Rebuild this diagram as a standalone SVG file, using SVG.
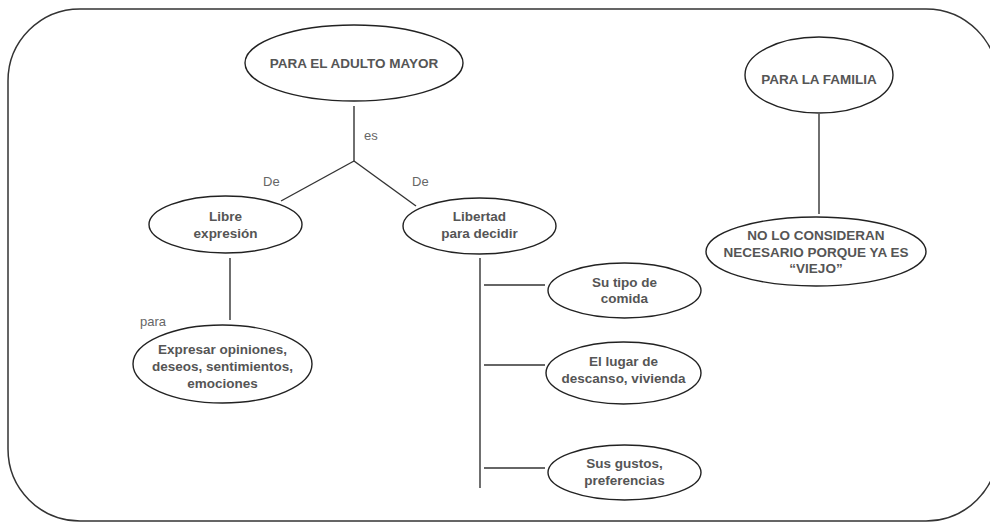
<svg xmlns="http://www.w3.org/2000/svg" width="990" height="523" viewBox="0 0 990 523">
<style>
.n{fill:#fff;stroke:#222;stroke-width:1.4}
.t{font-family:"Liberation Sans",Arial,sans-serif;font-weight:bold;font-size:13.5px;fill:#555;text-anchor:middle}
.l{font-family:"Liberation Sans",Arial,sans-serif;font-size:13px;fill:#666}
.c{stroke:#333;stroke-width:1.4;fill:none}
</style>
<rect width="990" height="523" fill="#fff"/>
<rect x="8" y="9" width="990" height="512" rx="72" ry="72" fill="none" stroke="#333" stroke-width="1.5"/>
<g id="connectors">
<line class="c" x1="354" y1="106" x2="354" y2="162"/>
<line class="c" x1="354" y1="161" x2="281" y2="201"/>
<line class="c" x1="354" y1="161" x2="416" y2="206"/>
<line class="c" x1="230" y1="258" x2="230" y2="320"/>
<line class="c" x1="480" y1="258" x2="480" y2="488"/>
<line class="c" x1="484" y1="285" x2="545" y2="285"/>
<line class="c" x1="484" y1="365" x2="545" y2="365"/>
<line class="c" x1="484" y1="468" x2="545" y2="468"/>
<line class="c" x1="819" y1="114" x2="819" y2="214"/>
<text class="l" x="364" y="140">es</text>
<text class="l" x="263" y="186">De</text>
<text class="l" x="412" y="186">De</text>
<text class="l" x="140" y="326">para</text>
</g>
<g id="adulto">
<ellipse class="n" cx="354" cy="63" rx="109" ry="38"/>
<text class="t" x="354" y="68">PARA EL ADULTO MAYOR</text>
</g>
<g id="libre">
<ellipse class="n" cx="225.5" cy="224.5" rx="76.5" ry="28.5"/>
<text class="t" x="225.5" y="221">Libre</text>
<text class="t" x="225.5" y="238">expresión</text>
</g>
<g id="libertad">
<ellipse class="n" cx="479.5" cy="226" rx="76.5" ry="28"/>
<text class="t" x="479.5" y="221">Libertad</text>
<text class="t" x="479.5" y="238">para decidir</text>
</g>
<g id="familia">
<ellipse class="n" cx="819" cy="75" rx="74" ry="38"/>
<text class="t" x="819" y="84">PARA LA FAMILIA</text>
</g>
<g id="noconsideran">
<ellipse class="n" cx="816" cy="251.5" rx="110" ry="34.5"/>
<text class="t" x="816" y="240">NO LO CONSIDERAN</text>
<text class="t" x="816" y="257">NECESARIO PORQUE YA ES</text>
<text class="t" x="816" y="273">“VIEJO”</text>
</g>
<g id="expresar">
<ellipse class="n" cx="222.5" cy="364" rx="89.5" ry="39"/>
<text class="t" x="222.5" y="354">Expresar opiniones,</text>
<text class="t" x="222.5" y="371">deseos, sentimientos,</text>
<text class="t" x="222.5" y="388">emociones</text>
</g>
<g id="comida">
<ellipse class="n" cx="624.5" cy="290.5" rx="76.5" ry="27.5"/>
<text class="t" x="624.5" y="287">Su tipo de</text>
<text class="t" x="624.5" y="303">comida</text>
</g>
<g id="lugar">
<ellipse class="n" cx="623.5" cy="373" rx="77.5" ry="31"/>
<text class="t" x="623.5" y="366">El lugar de</text>
<text class="t" x="623.5" y="383">descanso, vivienda</text>
</g>
<g id="gustos">
<ellipse class="n" cx="624.5" cy="472.5" rx="76.5" ry="27.5"/>
<text class="t" x="624.5" y="468">Sus gustos,</text>
<text class="t" x="624.5" y="485">preferencias</text>
</g>
</svg>
